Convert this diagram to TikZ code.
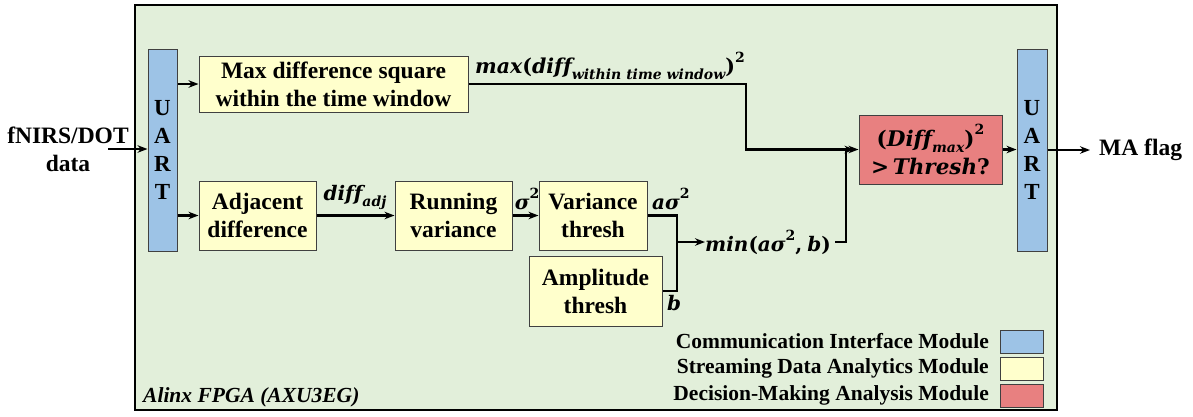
\documentclass[tikz,border=0pt]{standalone}
\usepackage{fontspec}
\setmainfont{Liberation Serif}[Ligatures=NoCommon]
\newfontfamily\mfont{DejaVu Serif}[Ligatures=NoCommon]
\usetikzlibrary{arrows.meta,calc}

\definecolor{fpgabg}{RGB}{226,239,218}
\definecolor{uartblue}{RGB}{157,195,230}
\definecolor{streamyellow}{RGB}{255,255,204}
\definecolor{decisionred}{RGB}{232,128,128}
\definecolor{edgegray}{RGB}{64,64,64}

% formula pieces: bold italic variables, bold upright signs, lowered / raised small parts
\newcommand{\mv}[1]{{\mfont\bfseries\itshape #1}}
\newcommand{\mup}[1]{{\mfont\bfseries #1}}
\newcommand{\lowpart}[1]{\raisebox{-0.3em}{\fontsize{14}{14}\selectfont #1}}
\newcommand{\highpart}[1]{\raisebox{0.55em}{\fontsize{14}{14}\selectfont #1}}

\begin{document}
\begin{tikzpicture}[x=1pt,y=-1pt,
  box/.style={draw=edgegray, line width=1pt, align=center, inner sep=0pt,
    font=\fontsize{23.5}{28}\selectfont\bfseries},
  uart/.style={box, fill=uartblue, minimum width=29pt, minimum height=202pt,
    font=\fontsize{23}{28}\selectfont\bfseries},
  stream/.style={box, fill=streamyellow},
  decide/.style={box, fill=decisionred, font=\fontsize{21.5}{28}\selectfont},
  swatch/.style={draw=edgegray, line width=1pt, minimum width=43pt, minimum height=23pt, inner sep=0pt},
  lbl/.style={inner sep=0pt, font=\fontsize{23.5}{28}\selectfont\bfseries},
  mlbl/.style={inner sep=0pt, font=\fontsize{20}{26}\selectfont},
  legendtxt/.style={inner sep=0pt, anchor=east, font=\fontsize{21.5}{24}\selectfont\bfseries},
  wire/.style={line width=2.2pt},
  arr/.style={wire, -{Stealth[length=10pt,width=7.5pt]}}
]
\useasboundingbox (0,0) rectangle (1193,416);

% FPGA board
\node[draw=black, line width=1.6pt, fill=fpgabg, minimum width=922pt, minimum height=405pt,
      inner sep=0pt] (fpga) at (596,207.5) {};
\node[lbl, anchor=south west, font=\fontsize{21.5}{24}\selectfont\bfseries\itshape]
  (board) at (143,407) {Alinx FPGA (AXU3EG)};

% modules
\node[uart] (uartL) at (162.5,150) {U\\A\\R\\T};
\node[uart, minimum width=30pt] (uartR) at (1032,150) {U\\A\\R\\T};
\node[stream, minimum width=269pt, minimum height=56pt] (maxd) at (333.5,84)
  {Max difference square\\within the time window};
\node[stream, minimum width=117pt, minimum height=69pt] (adj) at (257.5,215.5)
  {Adjacent\\difference};
\node[stream, minimum width=117pt, minimum height=69pt] (run) at (453.5,215.5)
  {Running\\variance};
\node[stream, minimum width=108pt, minimum height=69pt] (var) at (593,215.5)
  {Variance\\thresh};
\node[stream, minimum width=133pt, minimum height=70pt] (amp) at (595.5,291)
  {Amplitude\\thresh};
\node[decide, minimum width=143pt, minimum height=69pt] (dec) at (930.5,149.5)
  {\mup{(}\mv{Diff}\lowpart{\mv{max}}\mup{)}\highpart{\mup{2}}\\
   \mup{>}\,\mv{Thresh}\mup{?}};

% outside texts
\node[lbl, align=center, font=\fontsize{23.5}{28}\selectfont\bfseries] (src) at (68,149)
  {fNIRS/DOT\\data};
\node[lbl, anchor=west] (flag) at (1099,150) {MA flag};
\coordinate (srcend) at (108,149);
\coordinate (flagend) at (1090,150);

% signal labels
\node[mlbl, anchor=south west, font=\fontsize{20.5}{26}\selectfont] (maxlbl) at (475,80)
  {\mv{max}\mup{(}\mv{diff}\lowpart{\mv{within time window}}\mup{)}\highpart{\mup{2}}};
\node[mlbl, anchor=west] (minlbl) at (705,242)
  {\mv{min}\mup{(}\mv{aσ}\highpart{\mup{2}}\mup{,} \mv{b}\mup{)}};
\node[mlbl, anchor=south] (diffadj) at (355,210) {\mv{diff}\lowpart{\mv{adj}}};
\node[mlbl, anchor=south] (sig) at (527,210) {\mv{σ}\highpart{\mup{2}}};
\node[mlbl, anchor=south west] (asig) at (652,210) {\mv{aσ}\highpart{\mup{2}}};
\node[mlbl, anchor=north west] (bl) at (667,295) {\mv{b}};

% junction points
\coordinate (jmax) at (746,84);
\coordinate (jmin) at (677,242);
\coordinate (jout) at (846,242);

% connectors
\draw[arr] (srcend) -- (uartL.west |- srcend);
\draw[arr] (uartL.east |- maxd.west) -- (maxd.west);
\draw[arr] (uartL.east |- adj.west) -- (adj.west);
\draw[arr] (adj.east) -- (run.west);
\draw[arr] (run.east) -- (var.west);
\draw[wire] (var.east) -- (jmin |- var.east) -- (jmin |- amp.east) -- (amp.east);
\draw[arr] (jmin) -- (minlbl.west);
\draw[arr] (maxd.east) -- (jmax) -- (jmax |- dec.west) -- (dec.west);
\draw[arr] (minlbl.east) ++(4,0) -- (jout) -- (jout |- dec.west) -- ([xshift=-4pt]dec.west);
\draw[arr] (dec.east) -- (uartR.west |- dec.east);
\draw[arr] (uartR.east |- flagend) -- (flagend);

% legend
\node[swatch, fill=uartblue] (sw1) at (1021.5,341.5) {};
\node[swatch, fill=streamyellow] (sw2) at (1021.5,368.5) {};
\node[swatch, fill=decisionred] (sw3) at (1021.5,395.5) {};
\node[legendtxt] (lg1) at (989,341.5) {Communication Interface Module};
\node[legendtxt] (lg2) at (989,368.5) {Streaming Data Analytics Module};
\node[legendtxt] (lg3) at (989,395.5) {Decision-Making Analysis Module};
\end{tikzpicture}
\end{document}
